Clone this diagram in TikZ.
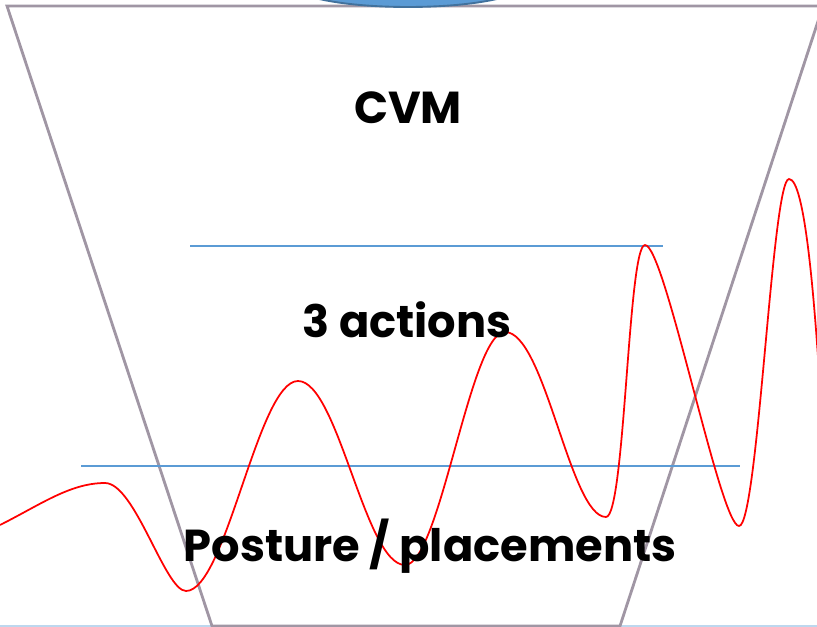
\documentclass[tikz,border=0pt]{standalone}
\usepackage{fontspec}
\usepackage{tikz}
\usepackage{xcolor}
\setmainfont{Poppins}
\usetikzlibrary{positioning,calc}
\definecolor{funnelgray}{HTML}{A096A4}
\definecolor{levelblue}{HTML}{5B9BD5}
\definecolor{capblue}{HTML}{41719C}
\definecolor{baseblue}{HTML}{BDD7EE}
\definecolor{waveRed}{HTML}{FF0000}
\tikzset{
  funnelLine/.style={draw=funnelgray, line width=2.4pt, line join=miter},
  levelLine/.style={draw=levelblue, line width=1.3pt},
  waveLine/.style={draw=waveRed, line width=1.5pt},
  levelLabel/.style={font=\fontsize{38.2}{42}\selectfont\bfseries, inner sep=0pt, anchor=base}
}
\begin{document}
\begin{tikzpicture}[x=0.03cm, y=-0.03cm]
  \useasboundingbox (0,0) rectangle (817,627);
  \draw[baseblue, line width=1pt] (0,626) -- (817,626);
  % funnel
  \draw[funnelLine] (212,626) -- (7,6) -- (823,6) -- (620,626) -- cycle;
  \draw[draw=capblue, fill=levelblue, line width=1.6pt] (408,-15) ellipse [x radius=115, y radius=22];
  % levels
  \draw[levelLine] (190,246) -- (663,246);
  \draw[levelLine] (81,466) -- (740,466);
  % wave
  \draw[waveLine] (0,525) .. controls (40,505) and (70,483) .. (105,483)
    .. controls (135,483) and (165,591) .. (186,591)
    .. controls (226,591) and (258,381) .. (298,381)
    .. controls (338,381) and (365,565) .. (405,565)
    .. controls (440,565) and (470,332) .. (505,332)
    .. controls (545,332) and (570,517) .. (606,517)
    .. controls (625,517) and (628,245) .. (645,245)
    .. controls (665,245) and (720,526) .. (739,526)
    .. controls (758,526) and (772,179) .. (789,179)
    .. controls (805,179) and (815,300) .. (822,420);
  \node[levelLabel] (cvm) at (408,124) {CVM};
  \node[levelLabel] (actions) at (407,337) {3 actions};
  \node[levelLabel] (posture) at (430,561) {Posture / placements};
\end{tikzpicture}
\end{document}
